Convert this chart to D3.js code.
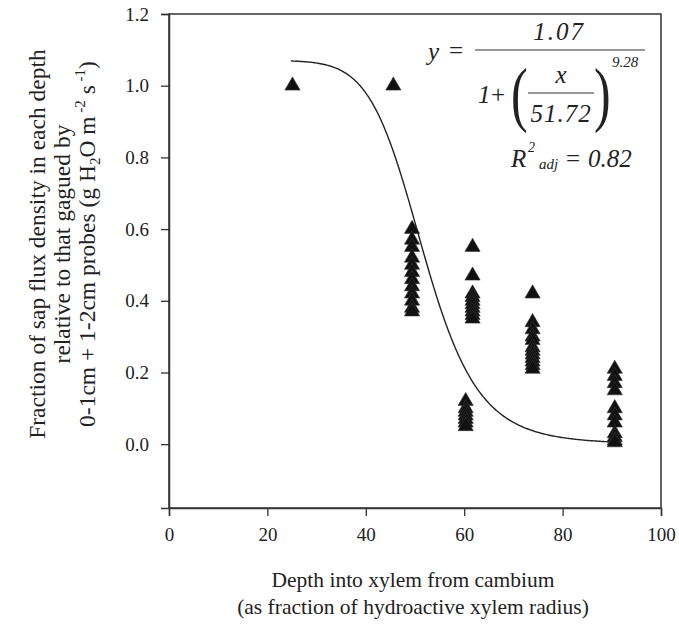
<!DOCTYPE html>
<html>
<head>
<meta charset="utf-8">
<script src="https://cdn.jsdelivr.net/npm/d3@7"></script>
<style>
  body { margin: 0; background: #fff; }
  text { font-family: "Liberation Serif", "Times New Roman", serif; fill: #222; }
</style>
</head>
<body>
<svg id="chart" width="679" height="634"></svg>
<script>
// observed points: depth (x) and relative sap flux (y)
var depths = [25.1, 45.6,
  49.4, 49.4, 49.4, 49.4, 49.4, 49.4, 49.4, 49.4, 49.4, 49.4, 49.4, 49.4,
  60.3, 60.3, 60.3, 60.3, 60.3, 60.3, 60.3,
  61.7, 61.7, 61.7, 61.7, 61.7, 61.7, 61.7, 61.7, 61.7, 61.7,
  73.9, 73.9, 73.9, 73.9, 73.9, 73.9, 73.9, 73.9, 73.9, 73.9, 73.9, 73.9,
  90.6, 90.6, 90.6, 90.6, 90.6, 90.6, 90.6, 90.6, 90.6, 90.6, 90.6];
var fractions = [1.0, 1.0,
  0.60, 0.57, 0.55, 0.52, 0.50, 0.48, 0.46, 0.44, 0.42, 0.40, 0.38, 0.37,
  0.12, 0.10, 0.09, 0.08, 0.07, 0.06, 0.05,
  0.55, 0.47, 0.42, 0.41, 0.40, 0.39, 0.38, 0.37, 0.36, 0.35,
  0.42, 0.34, 0.32, 0.30, 0.29, 0.27, 0.26, 0.25, 0.24, 0.23, 0.22, 0.21,
  0.21, 0.19, 0.17, 0.15, 0.10, 0.08, 0.06, 0.03, 0.02, 0.01, 0.005];

// fitted curve parameters, as printed on the chart
var fitA = 1.07, fitX0 = 51.72, fitB = 9.28;
var fitRange = [24.8, 90.8];

var xTicks = [0, 20, 40, 60, 80, 100];
var yTicks = [0.0, 0.2, 0.4, 0.6, 0.8, 1.0, 1.2];

var svg = d3.select("#chart");
var plotL = 169, plotR = 661, plotT = 14, plotB = 508;

var x = d3.scaleLinear().domain([0, 100]).range([plotL, plotR]);
var y = d3.scaleLinear().domain([-0.178, 1.2]).range([plotB, plotT]);

// frame
svg.append("rect")
    .attr("x", plotL).attr("y", plotT)
    .attr("width", plotR - plotL).attr("height", plotB - plotT)
    .attr("fill", "none").attr("stroke", "#333").attr("stroke-width", 1.5);

var xAxis = svg.append("g")
    .attr("transform", "translate(0," + plotB + ")")
    .call(d3.axisBottom(x).tickValues(xTicks).tickFormat(d3.format("d")).tickSize(8).tickPadding(12));
var yAxis = svg.append("g")
    .attr("transform", "translate(" + plotL + ",0)")
    .call(d3.axisLeft(y).tickValues(yTicks).tickFormat(d3.format(".1f")).tickSize(8).tickPadding(12));

[xAxis, yAxis].forEach(function (g) {
    g.select(".domain").attr("stroke", "#333").attr("stroke-width", 1.5);
    g.selectAll(".tick line").attr("stroke", "#333").attr("stroke-width", 1.3);
    g.selectAll(".tick text")
        .style("font-family", "Liberation Serif")
        .style("font-size", "19px")
        .attr("fill", "#222");
});

// fitted curve
var fit = function (d) { return fitA / (1 + Math.pow(d / fitX0, fitB)); };
var curveX = d3.range(fitRange[0], fitRange[1] + 0.01, 0.25);
svg.append("path")
    .datum(curveX)
    .attr("d", d3.line().x(function (d) { return x(d); }).y(function (d) { return y(fit(d)); }))
    .attr("fill", "none")
    .attr("stroke", "#222")
    .attr("stroke-width", 1.4);

// triangles
var tri = d3.symbol().type(d3.symbolTriangle).size(100);
svg.selectAll(".pt")
    .data(depths)
    .enter().append("path")
    .attr("class", "pt")
    .attr("d", tri)
    .attr("transform", function (d, i) { return "translate(" + x(d) + "," + y(fractions[i]) + ")"; })
    .attr("fill", "#111")
    .attr("stroke", "#333")
    .attr("stroke-width", 0.6);

// x title
svg.append("text")
    .attr("x", 413).attr("y", 587)
    .attr("text-anchor", "middle")
    .style("font-size", "21.5px")
    .text("Depth into xylem from cambium");
svg.append("text")
    .attr("x", 413).attr("y", 614)
    .attr("text-anchor", "middle")
    .style("font-size", "21.5px")
    .text("(as fraction of hydroactive xylem radius)");

// y title
var yt = svg.append("text")
    .attr("transform", "translate(0,244) rotate(-90)")
    .attr("text-anchor", "middle")
    .style("font-size", "23.5px");
yt.append("tspan").attr("x", 0).attr("y", 45).text("Fraction of sap flux density in each depth");
yt.append("tspan").attr("x", 0).attr("y", 70).text("relative to that gagued by");
var l3 = yt.append("tspan").attr("x", 0).attr("y", 95).text("0-1cm + 1-2cm probes (g H");
l3.append("tspan").attr("dy", 5).style("font-size", "15px").text("2");
l3.append("tspan").attr("dy", -5).text("O m");
l3.append("tspan").attr("dy", -10).style("font-size", "15px").text(" -2");
l3.append("tspan").attr("dy", 10).text(" s");
l3.append("tspan").attr("dy", -10).style("font-size", "15px").text(" -1");
l3.append("tspan").attr("dy", 10).text(")");

// equation
var eq = svg.append("g").style("font-style", "italic");
eq.append("text").attr("x", 428).attr("y", 60).style("font-size", "25px").text("y");
eq.append("text").attr("x", 449).attr("y", 59).style("font-size", "25px").style("font-style", "normal").text("=");
eq.append("line").attr("x1", 475).attr("x2", 645).attr("y1", 50).attr("y2", 50).attr("stroke", "#333").attr("stroke-width", 1.2);
eq.append("text").attr("x", 559).attr("y", 40).attr("text-anchor", "middle").style("font-size", "25px").style("letter-spacing", "2px").text("1.07");
eq.append("text").attr("x", 478).attr("y", 103).style("font-size", "25px").text("1");
eq.append("text").attr("x", 491).attr("y", 103).style("font-size", "25px").style("font-style", "normal").text("+");
eq.append("text").attr("transform", "translate(511,118) scale(1,1.45)").style("font-size", "50px").style("font-style", "normal").text("(");
eq.append("text").attr("transform", "translate(594,118) scale(1,1.45)").style("font-size", "50px").style("font-style", "normal").text(")");
eq.append("text").attr("x", 561).attr("y", 83).attr("text-anchor", "middle").style("font-size", "25px").text("x");
eq.append("line").attr("x1", 528).attr("x2", 594).attr("y1", 93).attr("y2", 93).attr("stroke", "#333").attr("stroke-width", 1.1);
eq.append("text").attr("x", 561).attr("y", 122).attr("text-anchor", "middle").style("font-size", "25px").style("letter-spacing", "1px").text("51.72");
eq.append("text").attr("x", 612).attr("y", 67).style("font-size", "15px").text("9.28");
eq.append("text").attr("x", 511).attr("y", 167).style("font-size", "25px").text("R");
eq.append("text").attr("x", 528).attr("y", 152).style("font-size", "14px").text("2");
eq.append("text").attr("x", 539).attr("y", 169).style("font-size", "15px").text("adj");
eq.append("text").attr("x", 566).attr("y", 167).style("font-size", "25px").style("font-style", "normal").text("=");
eq.append("text").attr("x", 588).attr("y", 167).style("font-size", "25px").text("0.82");
</script>
</body>
</html>
